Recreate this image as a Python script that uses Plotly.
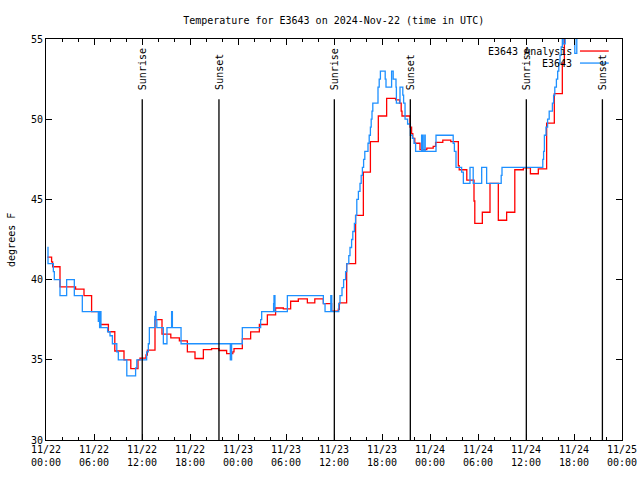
import plotly.graph_objects as go
import pandas as pd

START = pd.Timestamp("2024-11-22 00:00")

# Observations (E3643), hours since 2024-11-22 00:00 UTC
obs_hours = [0.17, 0.25, 0.92, 1.04, 1.75, 2.58, 3.54, 4.54, 6.54, 6.6, 6.7, 6.8, 6.87,
             7.7, 8.0, 8.3, 8.85, 9.04, 10.1, 11.2, 11.35, 12.58, 12.79, 12.92, 13.6,
             13.7, 13.75, 13.85, 14.67, 15.12, 15.7, 15.8, 16.88, 23.04, 23.2, 24.54,
             26.83, 26.96, 28.45, 28.5, 28.62, 30.17, 34.67, 34.88, 35.6, 35.72, 36.6,
             36.75, 37.0, 37.2, 37.45, 37.6, 37.85, 38.0, 38.2, 38.35, 38.55, 38.7,
             38.85, 39.05, 39.25, 39.4, 39.55, 39.7, 39.85, 40.25, 40.4, 40.55, 40.65,
             40.75, 40.85, 41.5, 41.65, 41.8, 42.4, 42.5, 43.2, 43.4, 43.75, 43.8,
             44.25, 44.6, 44.7, 44.88, 45.2, 45.55, 45.8, 46.0, 46.2, 46.95, 47.0,
             47.1, 47.15, 47.35, 47.4, 48.75, 50.9, 51.05, 51.25, 51.95, 52.17, 53.0,
             53.4, 54.46, 55.08, 56.9, 57.0, 62.1, 62.2, 62.3, 62.5, 62.7, 62.9, 63.3,
             63.45, 63.6, 63.8, 63.96, 64.1, 64.25, 64.4, 64.54, 64.65, 64.9, 66.1,
             66.35, 68.0, 70.0, 72.0]
obs_temp = [42, 41, 40.5, 40, 39, 40, 39, 38, 37.4, 38, 37, 38, 37,
            36.75, 36.5, 36, 35.5, 35, 34, 34.5, 35, 35.5, 36, 37, 37.7,
            38, 37.5, 37, 36, 37, 38, 37, 36, 35, 36, 37,
            37.5, 38, 38.5, 39, 38, 39, 38.5, 38, 39, 38, 38.5,
            39, 39.5, 40, 40.5, 41, 41.5, 42, 42.5, 43, 43.5, 44,
            45, 45.5, 46, 46.5, 47, 47.5, 48, 48.5, 49, 49.5, 50,
            50.5, 51, 52, 52.5, 53, 52.5, 52, 53, 52.5, 52, 51,
            52, 51.5, 51, 50, 49.7, 49, 48.8, 48.5, 48, 49, 48,
            49, 48, 49, 48, 49, 48.5, 48, 47, 46.7, 46, 47,
            46, 47, 46, 46.5, 47, 47.5, 48, 49, 49.5, 50, 50.5, 51,
            51.5, 52, 52.5, 53, 53.5, 54, 54.5, 56, 54.7, 56, 54.1,
            56, 57, 57.5, 57]

# Analysis (E3643 Analysis)
ana_hours = [0.17, 0.7, 0.83, 1.75, 3.7, 4.75, 5.7, 6.75, 7.8, 8.6, 9.75, 10.6, 11.5,
             11.75, 12.5, 12.67, 13.625, 14.5, 15.6, 16.67, 17.67, 18.625, 19.67,
             20.7, 21.625, 22.58, 23.35, 23.5, 24.54, 25.58, 26.67, 27.67, 28.7,
             29.67, 30.58, 31.54, 32.67, 33.6, 34.67, 35.7, 36.54, 36.67, 37.58,
             38.7, 39.67, 40.55, 41.54, 42.58, 43.7, 44.2, 44.4, 44.5, 45.5, 45.7,
             45.85, 46.1, 46.75, 47.6, 48.4, 48.7, 49.6, 50.6, 51.54, 51.65, 52.6,
             53.5, 53.6, 54.54, 55.5, 56.54, 57.58, 58.6, 59.67, 60.55, 61.54,
             62.58, 63.54, 64.54, 64.8, 66.0, 68.0, 70.0, 72.0]
ana_temp = [41.4, 41.1, 40.8, 39.55, 39.4, 39.0, 38.0, 37.2, 36.75, 35.55, 35.0, 34.45, 35.0,
            35.1, 35.3, 35.6, 37.5, 36.6, 36.37, 36.18, 35.5, 35.08, 35.64,
            35.7, 35.58, 35.39, 35.5, 35.7, 36.3, 36.74, 37.2, 37.8, 38.23,
            38.17, 38.65, 38.8, 38.55, 38.8, 38.5, 38.03, 38.15, 38.55, 41.0,
            44.0, 46.7, 48.6, 50.2, 51.3, 51.2, 51.0, 50.5, 50.2, 49.5, 49.1,
            48.8, 48.5, 48.1, 48.2, 48.3, 48.55, 48.7, 48.6, 47.1, 46.85, 46.2,
            44.9, 43.5, 44.2, 46.0, 43.7, 44.2, 46.85, 46.96, 46.6, 46.9,
            49.76, 51.6, 53.5, 56.5, 58, 59, 58.5, 58]

sunrise_hours = [12.03, 36.04, 60.04]
sunset_hours = [21.62, 45.54, 69.55]

y_range = [30, 55]
y_ticks = [30, 35, 40, 45, 50, 55]

FONT = "DejaVu Sans Mono"
RED = "#ff0000"
BLUE = "#1e90ff"


def to_time(hours):
    return [START + pd.to_timedelta(h, unit="h") for h in hours]


fig = go.Figure()
fig.add_trace(go.Scatter(x=to_time(ana_hours), y=ana_temp, mode="lines",
                         line=dict(color=RED, width=1.3, shape="hv"),
                         name="E3643 Analysis", showlegend=False))
fig.add_trace(go.Scatter(x=to_time(obs_hours), y=obs_temp, mode="lines",
                         line=dict(color=BLUE, width=1.3, shape="hv"),
                         name="E3643", showlegend=False))

line_top = 0.850
label_bottom = 0.868
for label, hours in (("Sunrise", sunrise_hours), ("Sunset", sunset_hours)):
    for t in to_time(hours):
        fig.add_shape(type="line", xref="x", yref="paper", x0=t, x1=t,
                      y0=0, y1=line_top, line=dict(color="black", width=1.3))
        fig.add_annotation(x=t, y=label_bottom, xref="x", yref="paper", text=label,
                           textangle=-90, showarrow=False, xanchor="center",
                           yanchor="bottom", xshift=1,
                           font=dict(family=FONT, size=10, color="black"))

# legend (gnuplot style: text right-aligned, sample to the right)
legend_items = [("E3643 Analysis", RED), ("E3643", BLUE)]
legend_y = [0.970, 0.940]
for (name, col), ly in zip(legend_items, legend_y):
    fig.add_annotation(x=0.9167, y=ly, xref="paper", yref="paper", text=name,
                       showarrow=False, xanchor="right", yanchor="middle",
                       font=dict(family=FONT, size=10, color="black"))
    fig.add_shape(type="line", xref="paper", yref="paper", x0=0.927, x1=0.977,
                  y0=ly, y1=ly, line=dict(color=col, width=1.3))

fig.add_annotation(x=-0.0600, y=0.5, xref="paper", yref="paper", text="degrees F",
                   textangle=-90, showarrow=False, xanchor="center", yanchor="middle",
                   font=dict(family=FONT, size=10, color="black"))

fig.update_layout(
    width=640, height=480,
    margin=dict(l=46, r=18, t=39, b=40, autoexpand=False),
    paper_bgcolor="white", plot_bgcolor="white",
    title=dict(text="Temperature for E3643 on 2024-Nov-22 (time in UTC)",
               x=0.5214, xanchor="center", y=1 - 20 / 480,
               yanchor="middle", yref="container",
               font=dict(family=FONT, size=10, color="black")),
    font=dict(family=FONT, size=10, color="black"),
    showlegend=False,
)
fig.update_xaxes(
    type="date", range=[START, START + pd.Timedelta(hours=72)],
    tick0=START, dtick=6 * 3600 * 1000, tickformat="%m/%d<br>%H:%M",
    ticks="inside", ticklen=6, tickcolor="black", tickwidth=1,
    showline=True, linecolor="black", linewidth=1, mirror="allticks",
    showgrid=False, zeroline=False, ticklabeloverflow="allow",
    minor=dict(dtick=2 * 3600 * 1000, tick0=START, ticks="inside", ticklen=3,
               tickcolor="black", showgrid=False),
    tickfont=dict(family=FONT, size=10, color="black"),
)
fig.update_yaxes(
    range=y_range, tickvals=y_ticks,
    ticks="inside", ticklen=6, tickcolor="black", tickwidth=1,
    showline=True, linecolor="black", linewidth=1, mirror="allticks",
    showgrid=False, zeroline=False,
    tickfont=dict(family=FONT, size=10, color="black"),
)

# remove the browser's default 8px body margin so the figure fills the window
fig.write_html("out.html", config={"displayModeBar": False},
               post_script="document.body.style.margin='0';")
